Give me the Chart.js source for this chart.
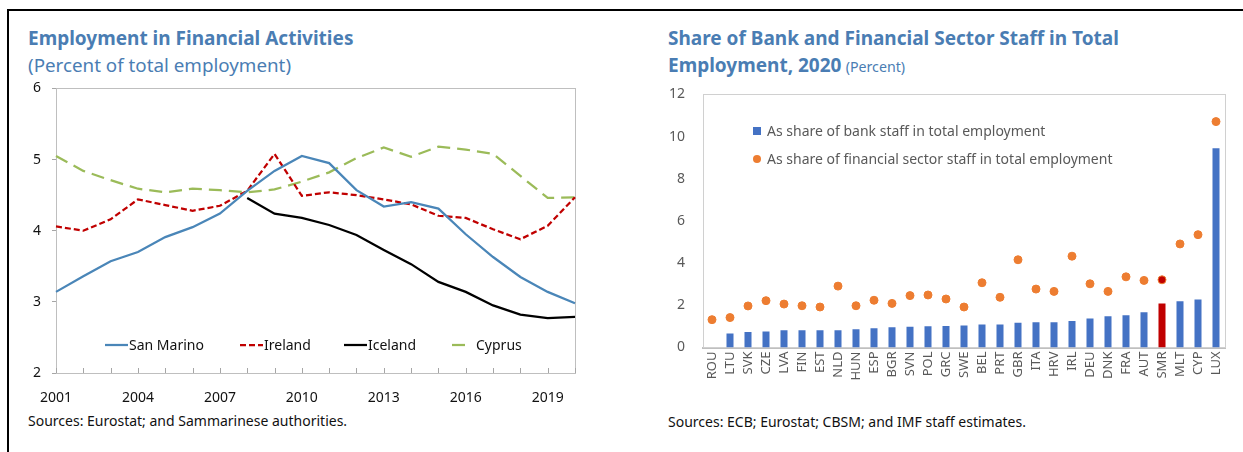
<!DOCTYPE html>
<html>
<head>
<meta charset="utf-8">
<script src="https://cdn.jsdelivr.net/npm/chart.js@4.4.1/dist/chart.umd.min.js"></script>
<style>
    body { margin: 0; background: #fff; font-family: 'Noto Sans', sans-serif; }
    #page { position: relative; width: 1243px; height: 452px; overflow: hidden; }
    .frame { position: absolute; left: 7px; top: 9px; right: -5px; bottom: -5px; border-top: 2px solid #000; border-left: 2px solid #000; }
    .title { position: absolute; color: #4a7db3; white-space: nowrap; }
    .title b { font-size: 19px; font-weight: 700; }
    .sub { font-size: 18.8px; }
    .small { font-size: 14.2px; }
    .source { position: absolute; font-size: 14px; color: #111; white-space: nowrap; }
    canvas { position: absolute; }
</style>
</head>
<body>
<div id="page">
    <div class="frame"></div>

    <div class="title" style="left:28px; top:26px; line-height:24px;"><b>Employment in Financial Activities</b></div>
    <div class="title sub" style="left:28px; top:53px; line-height:24px;">(Percent of total employment)</div>
    <div class="source" style="left:28px; top:411px;">Sources: Eurostat; and Sammarinese authorities.</div>

    <div class="title" style="left:668px; top:26px; line-height:24px;"><b>Share of Bank and Financial Sector Staff in Total</b></div>
    <div class="title" style="left:668px; top:53px; line-height:24px;"><b>Employment, 2020</b> <span class="small">(Percent)</span></div>
    <div class="source" style="left:668px; top:412px;">Sources: ECB; Eurostat; CBSM; and IMF staff estimates.</div>

    <canvas id="employment-chart" width="600" height="346" style="left:0; top:69px;"></canvas>
    <canvas id="staff-chart" width="603" height="312" style="left:640px; top:68px;"></canvas>
</div>

<script>
// ---- Employment in financial activities, percent of total employment ----
const years = ['2001', '2002', '2003', '2004', '2005', '2006', '2007', '2008', '2009', '2010',
               '2011', '2012', '2013', '2014', '2015', '2016', '2017', '2018', '2019', '2020'];

const sanMarino = [3.14, 3.36, 3.57, 3.70, 3.91, 4.05, 4.24, 4.56, 4.84, 5.05,
                   4.95, 4.57, 4.34, 4.40, 4.31, 3.95, 3.63, 3.35, 3.14, 2.98];
const ireland   = [4.06, 4.00, 4.16, 4.44, 4.36, 4.28, 4.35, 4.56, 5.08, 4.49,
                   4.54, 4.50, 4.44, 4.37, 4.21, 4.18, 4.02, 3.88, 4.07, 4.47];
const iceland   = [null, null, null, null, null, null, null, 4.46, 4.24, 4.18,
                   4.08, 3.94, 3.73, 3.53, 3.28, 3.14, 2.95, 2.82, 2.77, 2.79];
const cyprus    = [5.05, 4.84, 4.71, 4.59, 4.54, 4.59, 4.57, 4.54, 4.58, 4.69,
                   4.82, 5.02, 5.17, 5.04, 5.18, 5.14, 5.08, 4.77, 4.46, 4.47];

// ---- Bank / financial sector staff in total employment, 2020 ----
const countries = ['ROU', 'LTU', 'SVK', 'CZE', 'LVA', 'FIN', 'EST', 'NLD', 'HUN', 'ESP',
                   'BGR', 'SVN', 'POL', 'GRC', 'SWE', 'BEL', 'PRT', 'GBR', 'ITA', 'HRV',
                   'IRL', 'DEU', 'DNK', 'FRA', 'AUT', 'SMR', 'MLT', 'CYP', 'LUX'];
const bankStaff = [null, 0.66, 0.74, 0.76, 0.82, 0.82, 0.82, 0.82, 0.87, 0.91,
                   0.96, 0.98, 1.01, 1.02, 1.04, 1.09, 1.09, 1.17, 1.20, 1.20,
                   1.26, 1.37, 1.48, 1.53, 1.67, 2.09, 2.19, 2.28, 9.45];
const finStaff  = [1.32, 1.42, 1.97, 2.22, 2.06, 1.98, 1.92, 2.91, 1.98, 2.24,
                   2.09, 2.46, 2.49, 2.30, 1.92, 3.07, 2.38, 4.16, 2.77, 2.66,
                   4.33, 3.02, 2.66, 3.35, 3.18, 3.21, 4.91, 5.35, 10.71];
const highlight = 'SMR';

const FONT = 'Noto Sans';

// Thin grey box round the plot area
const plotFrame = {
    id: 'plotFrame',
    beforeDatasetsDraw(chart, args, opts) {
        const { ctx, chartArea: a } = chart;
        ctx.save();
        ctx.strokeStyle = opts.color;
        ctx.lineWidth = 1;
        ctx.strokeRect(Math.round(a.left) + 0.5, Math.round(a.top) + 0.5,
                       Math.round(a.right - a.left), Math.round(a.bottom - a.top));
        // short inward tick marks on the category axis
        if (opts.innerTicks) {
            const x = chart.scales.x;
            ctx.strokeStyle = opts.tickColor;
            ctx.beginPath();
            x.ticks.forEach((t, i) => {
                const px = Math.round(x.getPixelForTick(i)) + 0.5;
                ctx.moveTo(px, a.bottom);
                ctx.lineTo(px, a.bottom - opts.innerTicks);
            });
            ctx.stroke();
        }
        ctx.restore();
    }
};

// Legend drawn inside the plot area
const innerLegend = {
    id: 'innerLegend',
    afterDatasetsDraw(chart, args, opts) {
        const { ctx } = chart;
        ctx.save();
        ctx.font = opts.size + 'px "' + FONT + '"';
        ctx.textBaseline = 'middle';
        ctx.fillStyle = opts.color;
        opts.items.forEach(item => {
            const ds = chart.data.datasets[item.dataset];
            const y = item.y;
            if (item.marker === 'line') {
                ctx.save();
                ctx.strokeStyle = ds.borderColor;
                ctx.lineWidth = ds.borderWidth;
                ctx.setLineDash(ds.borderDash || []);
                ctx.beginPath();
                ctx.moveTo(item.x, y);
                ctx.lineTo(item.x + item.sample, y);
                ctx.stroke();
                ctx.restore();
            } else if (item.marker === 'box') {
                ctx.fillStyle = item.fill;
                ctx.fillRect(item.x, y - 4, 8, 8);
            } else {
                ctx.fillStyle = item.fill;
                ctx.beginPath();
                ctx.arc(item.x + 4, y, 4, 0, Math.PI * 2);
                ctx.fill();
            }
            ctx.fillStyle = opts.color;
            ctx.fillText(ds.label, item.x + item.sample + item.gap, y + 1);
        });
        ctx.restore();
    }
};

function renderEmploymentChart() {
    const ctx = document.getElementById('employment-chart').getContext('2d');
    const line = (label, data, color, dash) => ({
        label, data,
        borderColor: color,
        borderWidth: 2.25,
        borderDash: dash,
        pointRadius: 0,
        tension: 0,
        fill: false
    });

    new Chart(ctx, {
        type: 'line',
        data: {
            labels: years,
            datasets: [
                line('San Marino', sanMarino, '#4a86b8', []),
                line('Ireland', ireland, '#c00000', [6, 3]),
                line('Iceland', iceland, '#000000', []),
                line('Cyprus', cyprus, '#9bbb59', [13, 7])
            ]
        },
        options: {
            responsive: false,
            animation: false,
            layout: { padding: { top: 7, right: 25, left: 0, bottom: 0 } },
            plugins: {
                legend: { display: false },
                tooltip: { enabled: false },
                plotFrame: { color: '#bfbfbf', tickColor: '#a6a6a6', innerTicks: 5 },
                innerLegend: {
                    size: 14, color: '#111',
                    items: [
                        { dataset: 0, marker: 'line', x: 105, y: 276, sample: 23, gap: 1 },
                        { dataset: 1, marker: 'line', x: 240, y: 276, sample: 23, gap: 1 },
                        { dataset: 2, marker: 'line', x: 344, y: 276, sample: 23, gap: 1 },
                        { dataset: 3, marker: 'line', x: 452, y: 276, sample: 18, gap: 6 }
                    ]
                }
            },
            scales: {
                x: {
                    offset: false,
                    afterFit: s => { s.height = 42; },
                    grid: { display: false, drawTicks: false },
                    border: { color: '#a6a6a6' },
                    ticks: {
                        autoSkip: false, maxRotation: 0, padding: 17,
                        color: '#111', font: { family: FONT, size: 14 },
                        callback: (v, i) => (i % 3 === 0 ? years[i] : '')
                    }
                },
                y: {
                    min: 2, max: 6,
                    afterFit: s => { s.width = 56; },
                    grid: { display: true, drawOnChartArea: false, drawTicks: true, tickLength: 4, color: '#a6a6a6' },
                    border: { color: '#a6a6a6' },
                    ticks: { stepSize: 1, padding: 11, color: '#111', font: { family: FONT, size: 14 } }
                }
            }
        },
        plugins: [plotFrame, innerLegend]
    });
}

function renderStaffChart() {
    const ctx = document.getElementById('staff-chart').getContext('2d');
    const barColors = countries.map(c => (c === highlight ? '#c00000' : '#4472c4'));
    const dotFill = countries.map(c => (c === highlight ? '#c00000' : '#ed7d31'));

    new Chart(ctx, {
        type: 'bar',
        data: {
            labels: countries,
            datasets: [
                {
                    type: 'line',
                    label: 'As share of financial sector staff in total employment',
                    data: finStaff,
                    showLine: false,
                    pointRadius: 4,
                    pointBackgroundColor: dotFill,
                    pointBorderColor: '#ed7d31',
                    pointBorderWidth: 1,
                    order: 0
                },
                {
                    label: 'As share of bank staff in total employment',
                    data: bankStaff,
                    backgroundColor: barColors,
                    borderWidth: 0,
                    categoryPercentage: 1,
                    barPercentage: 0.39,
                    order: 1
                }
            ]
        },
        options: {
            responsive: false,
            animation: false,
            layout: { padding: { top: 13, right: 18, left: 0, bottom: 0 } },
            plugins: {
                legend: { display: false },
                tooltip: { enabled: false },
                plotFrame: { color: '#d0d0d0' },
                innerLegend: {
                    size: 14, color: '#595959',
                    items: [
                        { dataset: 1, marker: 'box', fill: '#4472c4', x: 113, y: 63, sample: 8, gap: 6 },
                        { dataset: 0, marker: 'dot', fill: '#ed7d31', x: 113, y: 91, sample: 8, gap: 6 }
                    ]
                }
            },
            scales: {
                x: {
                    afterFit: s => { s.height = 32.5; },
                    grid: { display: false, drawTicks: false },
                    border: { color: '#bfbfbf', width: 2 },
                    ticks: {
                        autoSkip: false, minRotation: 90, maxRotation: 90, padding: 4,
                        color: '#595959', font: { family: FONT, size: 13 }
                    }
                },
                y: {
                    min: 0, max: 12,
                    afterFit: s => { s.width = 63; },
                    grid: { display: false, drawTicks: false },
                    border: { color: '#d0d0d0' },
                    ticks: { stepSize: 2, padding: 18, color: '#595959', font: { family: FONT, size: 14 } }
                }
            }
        },
        plugins: [plotFrame, innerLegend]
    });
}

renderEmploymentChart();
renderStaffChart();
</script>
</body>
</html>
